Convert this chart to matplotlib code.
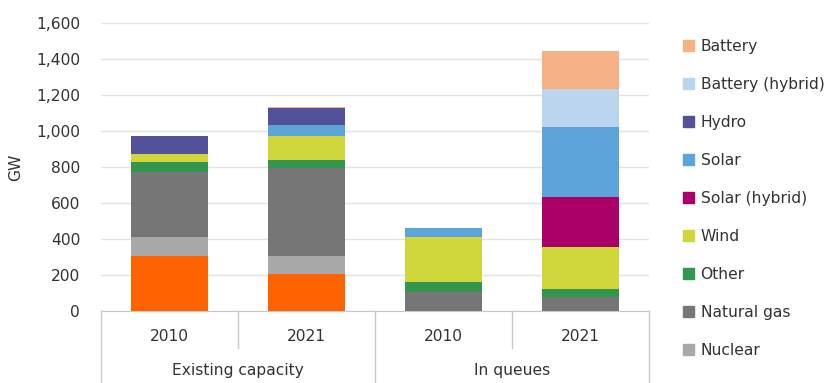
import numpy as np
import matplotlib
matplotlib.use('Agg')
import matplotlib.pyplot as plt
from matplotlib.patches import Patch

# categories (two-level x axis)
years = ['2010', '2021', '2010', '2021']
groups = ['Existing capacity', 'In queues']

# stacked series, bottom to top (GW)
coal = [305, 208, 0, 0]
nuclear = [106, 99, 0, 0]
natural_gas = [359, 489, 104, 76]
other = [60, 43, 55, 48]
wind = [40, 133, 254, 230]
solar_hybrid = [0, 0, 0, 279]
solar = [0, 63, 50, 391]
hydro = [102, 93, 0, 0]
battery_hybrid = [0, 0, 0, 208]
battery = [0, 7, 0, 211]

series = [
    ('Coal', coal, '#FF6200'),
    ('Nuclear', nuclear, '#A8A8A8'),
    ('Natural gas', natural_gas, '#767676'),
    ('Other', other, '#34954F'),
    ('Wind', wind, '#D0D73A'),
    ('Solar (hybrid)', solar_hybrid, '#AB0066'),
    ('Solar', solar, '#5CA4DA'),
    ('Hydro', hydro, '#525199'),
    ('Battery (hybrid)', battery_hybrid, '#BAD5EC'),
    ('Battery', battery, '#F3B185'),
]

txt = '#333333'
fs = 11.2
plt.rcParams['font.family'] = 'DejaVu Sans'

fig = plt.figure(figsize=(8.29, 3.83), dpi=100)
ax = fig.add_axes([101/829, 1-311/383, 548/829, 288/383])

x = np.arange(len(years))
bottom = np.zeros(len(years))
for name, vals, col in series:
    vals = np.array(vals, dtype=float)
    ax.bar(x, vals, bottom=bottom, width=0.555, color=col, label=name, zorder=3)
    bottom += vals

ax.set_xlim(-0.5, len(years)-0.5)
ax.set_ylim(0, 1600)
ax.set_yticks(np.arange(0, 1601, 200))
ax.set_yticklabels(['{:,}'.format(v) for v in range(0, 1601, 200)])
ax.yaxis.grid(True, color='#E3E3E3', lw=1, zorder=0)
ax.tick_params(axis='y', length=0, pad=15, labelsize=fs, labelcolor=txt)
ax.set_ylabel('GW', fontsize=fs, color=txt, labelpad=9)
ax.set_xticks([])
for s in ['top', 'right', 'left']:
    ax.spines[s].set_visible(False)
ax.spines['bottom'].set_color('#C8C8C8')

# two-level category labels
for i, yr in enumerate(years):
    ax.text(i, -0.087, yr, transform=ax.get_xaxis_transform(), ha='center', va='center',
            fontsize=fs, color=txt)
for j, g in enumerate(groups):
    ax.text(2*j + 0.5, -0.205, g, transform=ax.get_xaxis_transform(), ha='center', va='center',
            fontsize=fs, color=txt)
for xs, y0 in [(-0.5, -0.25), (0.5, -0.13), (1.5, -0.25), (2.5, -0.13), (3.5, -0.25)]:
    ax.plot([xs, xs], [0, y0], transform=ax.get_xaxis_transform(), color='#C8C8C8',
            lw=1, clip_on=False)

# legend (coal falls below the visible area in the original)
handles = [Patch(color=col, label=name) for name, vals, col in series[::-1] if name != 'Coal']
fig.legend(handles=handles, loc='upper left', bbox_to_anchor=(0.816, 0.915), frameon=False,
           fontsize=fs, labelcolor=txt, handlelength=0.7, handleheight=0.7,
           handletextpad=0.45, labelspacing=1.48, borderaxespad=0)

fig.savefig('out.png', dpi=100)
